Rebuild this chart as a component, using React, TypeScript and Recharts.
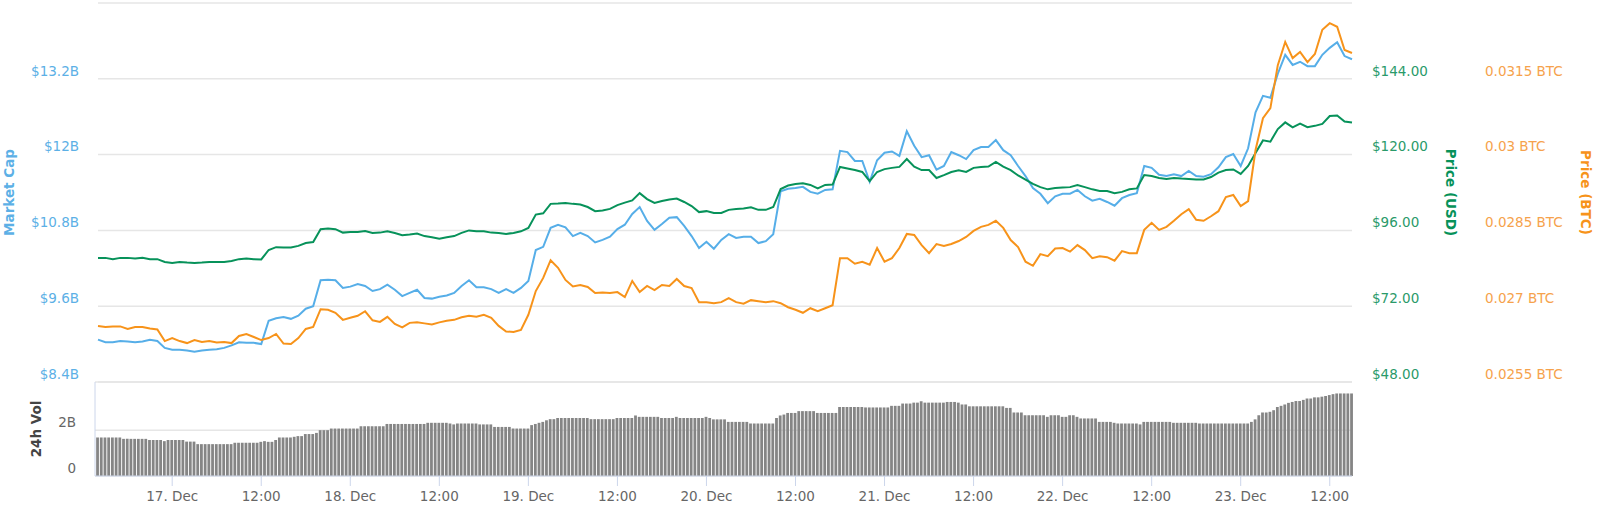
import React from 'react';
import {
  LineChart,
  Line,
  BarChart,
  Bar,
  XAxis,
  YAxis,
  CartesianGrid,
} from 'recharts';

const FONT = '"DejaVu Sans", Verdana, sans-serif';

// hours counted from 17 Dec 00:00, first sample is 16 Dec 14:00
const START_HOUR = -10;

// market cap, $B, hourly
const marketCap = [
  9.07, 9.03, 9.03, 9.05, 9.04, 9.03, 9.04, 9.07, 9.05, 8.94,
  8.91, 8.91, 8.9, 8.88, 8.9, 8.91, 8.92, 8.94, 8.98, 9.03,
  9.02, 9.02, 9.0, 9.37, 9.41, 9.43, 9.4, 9.45, 9.56, 9.6,
  10.01, 10.02, 10.01, 9.89, 9.91, 9.95, 9.92, 9.84, 9.87, 9.94,
  9.86, 9.76, 9.81, 9.86, 9.73, 9.72, 9.75, 9.77, 9.81, 9.92,
  10.01, 9.9, 9.9, 9.87, 9.81, 9.87, 9.81, 9.89, 10.0, 10.49,
  10.54, 10.84, 10.89, 10.85, 10.71, 10.76, 10.71, 10.61, 10.65, 10.7,
  10.82, 10.89, 11.06, 11.17, 10.95, 10.81, 10.9, 11.0, 11.01, 10.87,
  10.71, 10.52, 10.62, 10.51, 10.65, 10.74, 10.68, 10.7, 10.7, 10.6,
  10.63, 10.74, 11.42, 11.46, 11.47, 11.49, 11.41, 11.38, 11.44, 11.45,
  12.06, 12.04, 11.9, 11.9, 11.57, 11.91, 12.03, 12.05, 11.98, 12.37,
  12.14, 11.96, 11.99, 11.76, 11.82, 12.04, 11.99, 11.93, 12.07, 12.12,
  12.12, 12.23, 12.07, 11.99, 11.82, 11.66, 11.47, 11.38, 11.23, 11.34,
  11.38, 11.38, 11.44, 11.34, 11.27, 11.3, 11.25, 11.19, 11.31, 11.36,
  11.39, 11.82, 11.79, 11.68, 11.66, 11.69, 11.66, 11.74, 11.66, 11.65,
  11.69, 11.8, 11.96, 12.01, 11.82, 12.1, 12.67, 12.93, 12.9, 13.28,
  13.58, 13.42, 13.47, 13.4, 13.4, 13.58, 13.69, 13.78, 13.56, 13.51,
];

// price in USD, hourly
const priceUsd = [
  87.3, 87.3, 86.9, 87.3, 87.3, 87.1, 87.3, 86.9, 86.9, 86.0,
  85.7, 86.0, 85.8, 85.7, 85.8, 86.0, 86.0, 86.0, 86.3, 86.9,
  87.1, 86.9, 86.8, 89.8, 90.7, 90.6, 90.6, 91.1, 92.0, 92.3,
  96.4, 96.6, 96.4, 95.3, 95.5, 95.5, 95.8, 95.2, 95.3, 95.7,
  95.2, 94.5, 94.7, 95.0, 94.2, 93.8, 93.4, 93.8, 94.2, 95.2,
  96.0, 95.7, 95.7, 95.3, 95.2, 94.9, 95.2, 95.7, 96.8, 101.0,
  101.4, 104.4, 104.5, 104.7, 104.4, 104.2, 103.4, 102.1, 102.3, 102.8,
  104.0, 104.8, 105.5, 107.8, 105.9, 104.7, 105.3, 105.8, 106.1, 105.0,
  103.7, 101.8, 102.1, 101.5, 101.5, 102.5, 102.8, 102.9, 103.3, 102.5,
  102.5, 103.4, 109.1, 110.2, 110.7, 110.9, 110.4, 109.3, 110.4, 110.5,
  116.1, 115.6, 115.1, 114.5, 111.6, 114.5, 115.4, 115.8, 116.1, 118.6,
  116.2, 115.1, 115.1, 112.6, 113.5, 114.5, 115.0, 114.5, 115.8, 116.1,
  116.2, 117.7, 116.2, 115.1, 113.4, 112.1, 110.7, 109.7, 109.0, 109.4,
  109.6, 109.7, 110.4, 109.7, 109.0, 108.5, 108.5, 107.8, 108.2, 109.0,
  109.3, 113.5, 113.2, 112.6, 112.3, 112.6, 112.4, 112.3, 112.1, 112.1,
  112.9, 114.3, 115.1, 115.3, 113.9, 116.4, 120.5, 124.5, 124.1, 128.1,
  130.2, 128.6, 129.8, 128.7, 129.1, 129.7, 132.2, 132.4, 130.5, 130.2,
];

// price in BTC, hourly
const priceBtc = [
  0.02661, 0.02659, 0.0266, 0.0266, 0.02655, 0.02659, 0.02659, 0.02656, 0.02654, 0.02631,
  0.02637, 0.02631, 0.02627, 0.02633, 0.02629, 0.02631, 0.02628, 0.02629, 0.02627, 0.02641,
  0.02645, 0.02639, 0.02633, 0.02637, 0.02645, 0.02626, 0.02625, 0.02637, 0.02655, 0.02659,
  0.02694, 0.02693, 0.02687, 0.02673, 0.02677, 0.02681, 0.0269, 0.02672, 0.02669, 0.02679,
  0.02665, 0.02658, 0.02667, 0.02668, 0.02666, 0.02664, 0.02668, 0.02671, 0.02673, 0.02678,
  0.02681, 0.02679, 0.02683, 0.02677, 0.02661, 0.0265, 0.02649, 0.02653, 0.02683, 0.0273,
  0.02756, 0.02791, 0.02776, 0.02752, 0.02739, 0.02742, 0.02738, 0.02726, 0.02727, 0.02726,
  0.02728, 0.02718, 0.0275, 0.02728, 0.0274, 0.02732, 0.02742, 0.0274, 0.02754, 0.0274,
  0.02736, 0.02708, 0.02708, 0.02706, 0.02708, 0.02716, 0.02708, 0.02705, 0.02712, 0.0271,
  0.02708, 0.0271, 0.02706, 0.02698, 0.02693, 0.02687, 0.02696, 0.0269, 0.02696, 0.02702,
  0.02795, 0.02795, 0.02784, 0.02788, 0.02782, 0.02815, 0.02788, 0.02795, 0.02815, 0.02843,
  0.02841, 0.02821, 0.02805, 0.02823, 0.02819, 0.02823, 0.02829, 0.02837, 0.02849, 0.02857,
  0.02861, 0.02869, 0.02855, 0.02831, 0.02817, 0.02788, 0.0278, 0.02803, 0.02799, 0.02814,
  0.02815, 0.02808, 0.02821, 0.02811, 0.02795, 0.02799, 0.02797, 0.0279, 0.02809, 0.02805,
  0.02805, 0.02851, 0.02865, 0.02851, 0.02857, 0.02869, 0.02882, 0.02892, 0.02871, 0.02869,
  0.02878, 0.02888, 0.02916, 0.0292, 0.02898, 0.02908, 0.03009, 0.03072, 0.03092, 0.03177,
  0.03223, 0.03191, 0.03203, 0.03183, 0.03199, 0.03247, 0.0326, 0.03253, 0.03207, 0.03201,
];

// 24h volume, $B, half-hour buckets
const volume24h = [
  1.68, 1.68, 1.68, 1.68, 1.68, 1.68, 1.68, 1.62, 1.62, 1.62, 1.62, 1.62, 1.62, 1.62,
  1.57, 1.57, 1.57, 1.57, 1.52, 1.57, 1.57, 1.57, 1.57, 1.57, 1.5, 1.5, 1.5,
  1.39, 1.39, 1.39, 1.39, 1.39, 1.39, 1.39, 1.39, 1.39, 1.39,
  1.45, 1.45, 1.45, 1.45, 1.45, 1.45, 1.45, 1.49, 1.52, 1.49, 1.49, 1.57,
  1.68, 1.68, 1.68, 1.68, 1.71, 1.74, 1.74, 1.83, 1.83, 1.83, 1.88, 2.0, 2.0, 2.0,
  2.07, 2.07, 2.07, 2.07, 2.07, 2.07, 2.07, 2.07,
  2.17, 2.17, 2.17, 2.17, 2.17, 2.17, 2.17,
  2.27, 2.27, 2.27, 2.27, 2.27, 2.27, 2.27, 2.27, 2.27, 2.27, 2.27,
  2.32, 2.32, 2.32, 2.32, 2.32, 2.32,
  2.29, 2.25, 2.29, 2.29, 2.29, 2.29, 2.29, 2.29, 2.25, 2.25, 2.25, 2.25,
  2.14, 2.14, 2.14, 2.14, 2.14, 2.07, 2.07, 2.07, 2.07, 2.07,
  2.22, 2.27, 2.32, 2.36, 2.43, 2.48, 2.48,
  2.53, 2.53, 2.53, 2.53, 2.53, 2.53, 2.53, 2.53, 2.53,
  2.48, 2.48, 2.48, 2.48, 2.48, 2.48, 2.48, 2.53, 2.53, 2.53, 2.53, 2.53,
  2.64, 2.58, 2.58, 2.58, 2.58, 2.58, 2.58, 2.53, 2.53, 2.53, 2.53, 2.58,
  2.53, 2.53, 2.53, 2.53, 2.53, 2.53, 2.53, 2.58, 2.53,
  2.47, 2.47, 2.47, 2.47, 2.36, 2.36, 2.36, 2.36, 2.36, 2.36,
  2.29, 2.29, 2.29, 2.29, 2.29, 2.29, 2.29,
  2.53, 2.64, 2.68, 2.75, 2.75, 2.75, 2.83, 2.83, 2.83, 2.83, 2.83,
  2.75, 2.75, 2.75, 2.75, 2.75, 2.75,
  3.01, 3.01, 3.01, 3.01, 3.01, 3.01, 3.01, 2.99, 2.99, 2.99, 2.99, 2.99, 2.99, 2.99,
  3.06, 3.06, 3.06, 3.16, 3.16, 3.16, 3.2, 3.2, 3.26,
  3.2, 3.2, 3.2, 3.2, 3.2, 3.2, 3.23, 3.23, 3.23, 3.2, 3.12, 3.12,
  3.04, 3.04, 3.04, 3.04, 3.04, 3.04, 3.04, 3.04, 3.04, 3.04, 2.97, 2.97,
  2.77, 2.77, 2.77, 2.65, 2.65, 2.65, 2.65, 2.65, 2.65, 2.58, 2.65, 2.65, 2.65,
  2.58, 2.58, 2.65, 2.65, 2.58, 2.51, 2.51, 2.51, 2.51, 2.51,
  2.36, 2.36, 2.36, 2.36, 2.32, 2.29, 2.29, 2.29, 2.29, 2.29, 2.29, 2.25,
  2.36, 2.36, 2.36, 2.36, 2.36, 2.36, 2.36, 2.36,
  2.32, 2.32, 2.32, 2.32, 2.32, 2.32, 2.32,
  2.29, 2.29, 2.29, 2.29, 2.29, 2.29, 2.29, 2.29, 2.29, 2.29, 2.29, 2.29, 2.29, 2.29,
  2.36, 2.47, 2.65, 2.77, 2.77, 2.8, 2.87, 3.01, 3.06, 3.12, 3.19, 3.23,
  3.27, 3.27, 3.32, 3.38, 3.38, 3.43, 3.43, 3.46, 3.49, 3.53, 3.57,
  3.6, 3.6, 3.6, 3.6, 3.6,
];

const capTicks = [8.4, 9.6, 10.8, 12, 13.2, 14.4];
const usdTicks = [48, 72, 96, 120, 144, 168];
const btcTicks = [0.0255, 0.027, 0.0285, 0.03, 0.0315, 0.033];
const volTicks = [0, 2];
const timeTicks = [0, 12, 24, 36, 48, 60, 72, 84, 96, 108, 120, 132, 144, 156];
const dayLabels = ['17. Dec', '18. Dec', '19. Dec', '20. Dec', '21. Dec', '22. Dec', '23. Dec'];

const BLUE = '#56aee8';
const GREEN = '#07925a';
const ORANGE = '#f7931a';
const GRID = '#e6e6e6';
const AXIS = '#ccd6eb';

const lineData = marketCap.map((cap, i) => ({
  t: START_HOUR + i,
  cap,
  usd: priceUsd[i],
  btc: priceBtc[i],
}));

const volData = volume24h.map((v, i) => ({ t: START_HOUR + i / 2, v }));

const timeLabel = (t: number) => (t % 24 === 0 ? dayLabels[t / 24] : '12:00');

// tick labels sit just above their grid line, like highcharts does
const makeTick = (fmt: (v: number) => string, color: string, dx: number, anchor: string, skip?: number) =>
  (props: any) => {
    const { x, y, payload } = props;
    if (skip !== undefined && payload.value >= skip) return <g />;
    return (
      <text x={x + dx} y={y - 8} dy="0.35em" textAnchor={anchor} fill={color} fontSize={13.5} fontFamily={FONT}>
        {fmt(payload.value)}
      </text>
    );
  };

const axisTitle = (text: string, color: string, dx: number, angle: number) =>
  (props: any) => {
    const { x, y, height } = props.viewBox;
    const cx = x + dx;
    const cy = y + height / 2;
    return (
      <text
        x={cx}
        y={cy}
        dy="0.35em"
        textAnchor="middle"
        transform={`rotate(${angle}, ${cx}, ${cy})`}
        fill={color}
        fontSize={13.5}
        fontWeight="bold"
        fontFamily={FONT}
      >
        {text}
      </text>
    );
  };

const CapTick = makeTick((v) => `$${v}B`, '#5cb0e6', -19, 'end', 14.4);
const UsdTick = makeTick((v) => `$${v.toFixed(2)}`, '#2a9a6a', 19, 'start', 168);
const BtcTick = makeTick((v) => `${v} BTC`, '#f6a24c', 133, 'start', 0.033);
const VolTick = makeTick((v) => (v === 0 ? '0' : `${v}B`), '#666666', -19, 'end');

export default function App() {
  return (
    <div
      style={{
        position: 'absolute',
        left: 0,
        top: 0,
        width: 1600,
        height: 513,
        overflow: 'hidden',
        background: '#fff',
      }}
    >
      <div style={{ position: 'absolute', left: 0, top: 0 }}>
        <LineChart width={1600} height={390} data={lineData} margin={{ top: 3, right: 246, bottom: 8, left: 97 }}>
          <CartesianGrid yAxisId="cap" vertical={false} stroke={GRID} strokeWidth={1.5} />
          <XAxis dataKey="t" type="number" domain={[-10, 159]} ticks={timeTicks} hide />
          <YAxis
            yAxisId="cap"
            orientation="left"
            width={1}
            domain={[8.4, 14.4]}
            ticks={capTicks}
            interval={0}
            axisLine={false}
            tickLine={false}
            tickSize={0}
            tickMargin={0}
            tick={CapTick}
            label={{ content: axisTitle('Market Cap', '#5cb0e6', -88, -90) }}
          />
          <YAxis
            yAxisId="usd"
            orientation="right"
            width={1}
            domain={[48, 168]}
            ticks={usdTicks}
            interval={0}
            axisLine={false}
            tickLine={false}
            tickSize={0}
            tickMargin={0}
            tick={UsdTick}
            label={{ content: axisTitle('Price (USD)', GREEN, 98, 90) }}
          />
          <YAxis
            yAxisId="btc"
            orientation="right"
            width={1}
            domain={[0.0255, 0.033]}
            ticks={btcTicks}
            interval={0}
            axisLine={false}
            tickLine={false}
            tickSize={0}
            tickMargin={0}
            tick={BtcTick}
            label={{ content: axisTitle('Price (BTC)', ORANGE, 234, 90) }}
          />
          <Line yAxisId="cap" dataKey="cap" type="linear" stroke={BLUE} strokeWidth={2} dot={false} isAnimationActive={false} />
          <Line yAxisId="usd" dataKey="usd" type="linear" stroke={GREEN} strokeWidth={2} dot={false} isAnimationActive={false} />
          <Line yAxisId="btc" dataKey="btc" type="linear" stroke={ORANGE} strokeWidth={2} dot={false} isAnimationActive={false} />
        </LineChart>
      </div>
      <div style={{ position: 'absolute', left: 0, top: 370 }}>
        <BarChart width={1600} height={143} data={volData} margin={{ top: 12, right: 248, bottom: 0, left: 94 }}>
          <CartesianGrid vertical={false} stroke={GRID} strokeWidth={1.5} />
          <XAxis
            dataKey="t"
            type="number"
            domain={[-10, 159]}
            ticks={timeTicks}
            interval={0}
            padding={{ left: 3, right: 0 }}
            height={37}
            stroke={AXIS}
            tickSize={10}
            tickMargin={5}
            tickFormatter={timeLabel}
            tick={{ fill: '#666666', fontSize: 13.5, fontFamily: FONT }}
          />
          <YAxis
            width={1}
            domain={[0, 4.1]}
            ticks={volTicks}
            interval={0}
            stroke={AXIS}
            tickLine={false}
            tickSize={0}
            tickMargin={0}
            tick={VolTick}
            label={{ content: axisTitle('24h Vol', '#444444', -58, -90) }}
          />
          <Bar dataKey="v" fill="#858585" barSize={2.8} isAnimationActive={false} />
        </BarChart>
      </div>
    </div>
  );
}
